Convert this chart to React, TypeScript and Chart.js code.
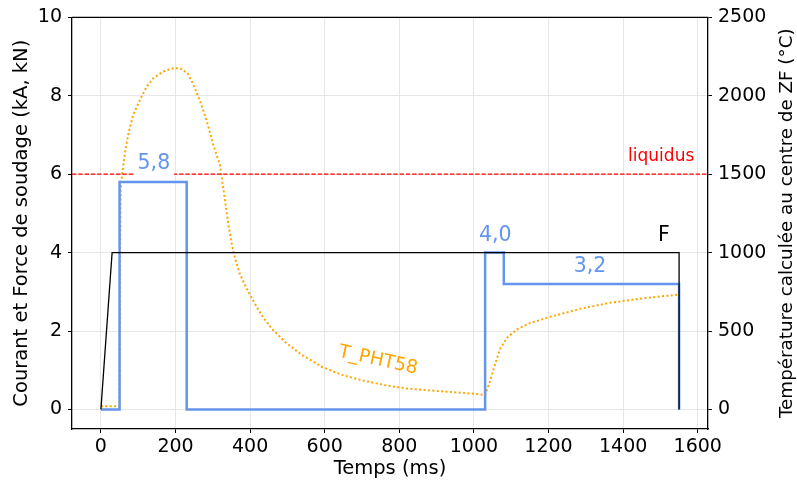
import React, { useEffect, useRef } from 'react';
import { Chart, registerables } from 'chart.js';

Chart.register(...registerables);

// ---- data ----
const forceTimes = [0, 30, 1550, 1550];
const forceValues = [0, 4, 4, 0];

const currentTimes = [0, 50, 50, 230, 230, 1030, 1030, 1080, 1080, 1550, 1550];
const currentValues = [0, 0, 5.8, 5.8, 0, 0, 4.0, 4.0, 3.2, 3.2, 0];

const tempTimes = [
  0, 50, 51, 53, 57, 65, 75, 87, 105, 123, 141, 167, 194, 212, 232, 248, 266, 284, 301, 319,
  333, 342, 351, 360, 373, 391, 409, 431, 458, 494, 538, 592, 646, 699, 760, 820, 909, 1000,
  1030, 1044, 1057, 1070, 1088, 1115, 1150, 1204, 1284, 1365, 1454, 1548,
];
const tempValues = [
  20, 20, 900, 1400, 1500, 1647, 1773, 1880, 1975, 2060, 2113, 2155, 2176, 2176, 2144, 2071, 1965,
  1838, 1690, 1560, 1330, 1175, 1054, 960, 860, 770, 690, 600, 515, 430, 348, 272, 220, 186, 155,
  133, 116, 100, 91, 186, 290, 385, 455, 510, 550, 590, 641, 680, 709, 732,
];

const liquidusTemp = 1500;

const xTicks = [0, 200, 400, 600, 800, 1000, 1200, 1400, 1600];
const yTicks = [0, 2, 4, 6, 8, 10];
const y2Ticks = [0, 500, 1000, 1500, 2000, 2500];

const X_MIN = -77.5;
const X_MAX = 1627.5;
const Y_MIN = -0.5;
const Y_MAX = 10;
const Y2_MIN = -125;
const Y2_MAX = 2500;

// text labels placed in data coordinates (time ms, kA/kN)
const labelTexts = ['5,8', '4,0', '3,2', 'F', 'liquidus', 'T_PHT58'];
const labelTimes = [142, 1057, 1311, 1509, 1502, 743];
const labelValues = [6.26, 4.43, 3.63, 4.43, 6.45, 1.25];

const FONT = "'DejaVu Sans', sans-serif";
const BLUE = '#6495ED';
const ORANGE = '#FFA500';

function pts(xs: number[], ys: number[]) {
  return xs.map((x, i) => ({ x, y: ys[i] }));
}

const overlayPlugin = {
  id: 'overlay',
  afterDatasetsDraw(chart: any) {
    const { ctx, scales } = chart;
    const xs = scales.x;
    const ys = scales.y;
    ctx.save();
    const styles: any[] = [
      { color: BLUE, size: 20.5, box: true, rot: 0 },
      { color: BLUE, size: 20.5, box: false, rot: 0 },
      { color: BLUE, size: 20.5, box: false, rot: 0 },
      { color: '#000', size: 20.5, box: false, rot: 0 },
      { color: '#ff0000', size: 17, box: false, rot: 0 },
      { color: ORANGE, size: 18.5, box: false, rot: (12.5 * Math.PI) / 180 },
    ];
    labelTexts.forEach((t, i) => {
      const st = styles[i];
      const px = xs.getPixelForValue(labelTimes[i]);
      const py = ys.getPixelForValue(labelValues[i]);
      ctx.save();
      ctx.translate(px, py);
      ctx.rotate(st.rot);
      ctx.font = `${st.size}px ${FONT}`;
      ctx.textAlign = 'center';
      ctx.textBaseline = 'middle';
      if (st.box) {
        const w = ctx.measureText(t).width;
        ctx.fillStyle = '#fff';
        ctx.fillRect(-w / 2 - 4, -14, w + 8, 28);
      }
      ctx.fillStyle = st.color;
      ctx.fillText(t, 0, 0);
      ctx.restore();
    });
    ctx.restore();
  },
  afterDraw(chart: any) {
    const { ctx, chartArea } = chart;
    ctx.save();
    // top spine
    ctx.strokeStyle = '#000';
    ctx.lineWidth = 1.3;
    ctx.beginPath();
    ctx.moveTo(chartArea.left, chartArea.top);
    ctx.lineTo(chartArea.right, chartArea.top);
    ctx.stroke();
    // right axis title (reads bottom to top)
    ctx.translate(787, (chartArea.top + chartArea.bottom) / 2);
    ctx.rotate(-Math.PI / 2);
    ctx.font = `18.3px ${FONT}`;
    ctx.fillStyle = '#000';
    ctx.textAlign = 'center';
    ctx.textBaseline = 'middle';
    ctx.fillText('Température calculée au centre de ZF (°C)', 0, 0);
    ctx.restore();
  },
};

export default function App() {
  const ref = useRef<HTMLCanvasElement | null>(null);

  useEffect(() => {
    if (!ref.current) return;
    const tickFont = { family: FONT, size: 19 };
    const titleFont = { family: FONT, size: 19.5 };
    const chart = new Chart(ref.current, {
      type: 'line',
      data: {
        datasets: [
          {
            label: 'liquidus',
            data: [
              { x: X_MIN, y: liquidusTemp },
              { x: X_MAX, y: liquidusTemp },
            ],
            yAxisID: 'y2',
            borderColor: '#ff0000',
            borderWidth: 1.2,
            borderDash: [4.4, 1.9],
            pointRadius: 0,
            fill: false,
          },
          {
            label: 'F',
            data: pts(forceTimes, forceValues),
            yAxisID: 'y',
            borderColor: '#000',
            borderWidth: 1.3,
            pointRadius: 0,
            fill: false,
          },
          {
            label: 'I',
            data: pts(currentTimes, currentValues),
            yAxisID: 'y',
            borderColor: BLUE,
            borderWidth: 2.5,
            pointRadius: 0,
            fill: false,
          },
          {
            label: 'T_PHT58',
            data: pts(tempTimes, tempValues),
            yAxisID: 'y2',
            borderColor: ORANGE,
            borderWidth: 2,
            borderDash: [2, 2.4],
            borderCapStyle: 'butt',
            tension: 0,
            pointRadius: 0,
            fill: false,
          },
        ],
      },
      options: {
        responsive: false,
        animation: false,
        events: [],
        layout: { padding: { top: 16, left: 0, right: 0, bottom: 0 } },
        plugins: { legend: { display: false }, tooltip: { enabled: false } },
        scales: {
          x: {
            type: 'linear',
            min: X_MIN,
            max: X_MAX,
            afterBuildTicks: (s: any) => {
              s.ticks = xTicks.map((v) => ({ value: v }));
            },
            afterFit: (s: any) => {
              s.height = 55;
            },
            ticks: {
              callback: (v: any) => String(v),
              font: tickFont,
              color: '#000',
              padding: 3,
              maxRotation: 0,
              autoSkip: false,
            },
            grid: { color: '#e6e6e6', lineWidth: 1, tickLength: 4, tickColor: '#000' },
            border: { color: '#000', width: 1.3 },
            title: {
              display: true,
              text: 'Temps (ms)',
              font: titleFont,
              color: '#000',
              padding: { top: 0, bottom: 3 },
            },
          },
          y: {
            type: 'linear',
            position: 'left',
            min: Y_MIN,
            max: Y_MAX,
            afterBuildTicks: (s: any) => {
              s.ticks = yTicks.map((v) => ({ value: v }));
            },
            afterFit: (s: any) => {
              s.width = 72;
            },
            ticks: {
              callback: (v: any) => String(v),
              font: tickFont,
              color: '#000',
              padding: 6,
            },
            grid: { color: '#e6e6e6', lineWidth: 1, tickLength: 4, tickColor: '#000' },
            border: { color: '#000', width: 1.3 },
            title: {
              display: true,
              text: 'Courant et Force de soudage (kA, kN)',
              font: titleFont,
              color: '#000',
              padding: { top: 10, bottom: 0 },
            },
          },
          y2: {
            type: 'linear',
            position: 'right',
            min: Y2_MIN,
            max: Y2_MAX,
            afterBuildTicks: (s: any) => {
              s.ticks = y2Ticks.map((v) => ({ value: v }));
            },
            afterFit: (s: any) => {
              s.width = 89;
            },
            ticks: {
              callback: (v: any) => String(v),
              font: tickFont,
              color: '#000',
              padding: 6,
            },
            grid: { drawOnChartArea: false, tickLength: 4, tickColor: '#000' },
            border: { color: '#000', width: 1.3 },
          },
        },
      },
      plugins: [overlayPlugin],
    } as any);
    return () => chart.destroy();
  }, []);

  return (
    <div style={{ position: 'fixed', left: 0, top: 0, width: 797, height: 484, background: '#fff' }}>
      <canvas ref={ref} width={797} height={484} />
    </div>
  );
}
